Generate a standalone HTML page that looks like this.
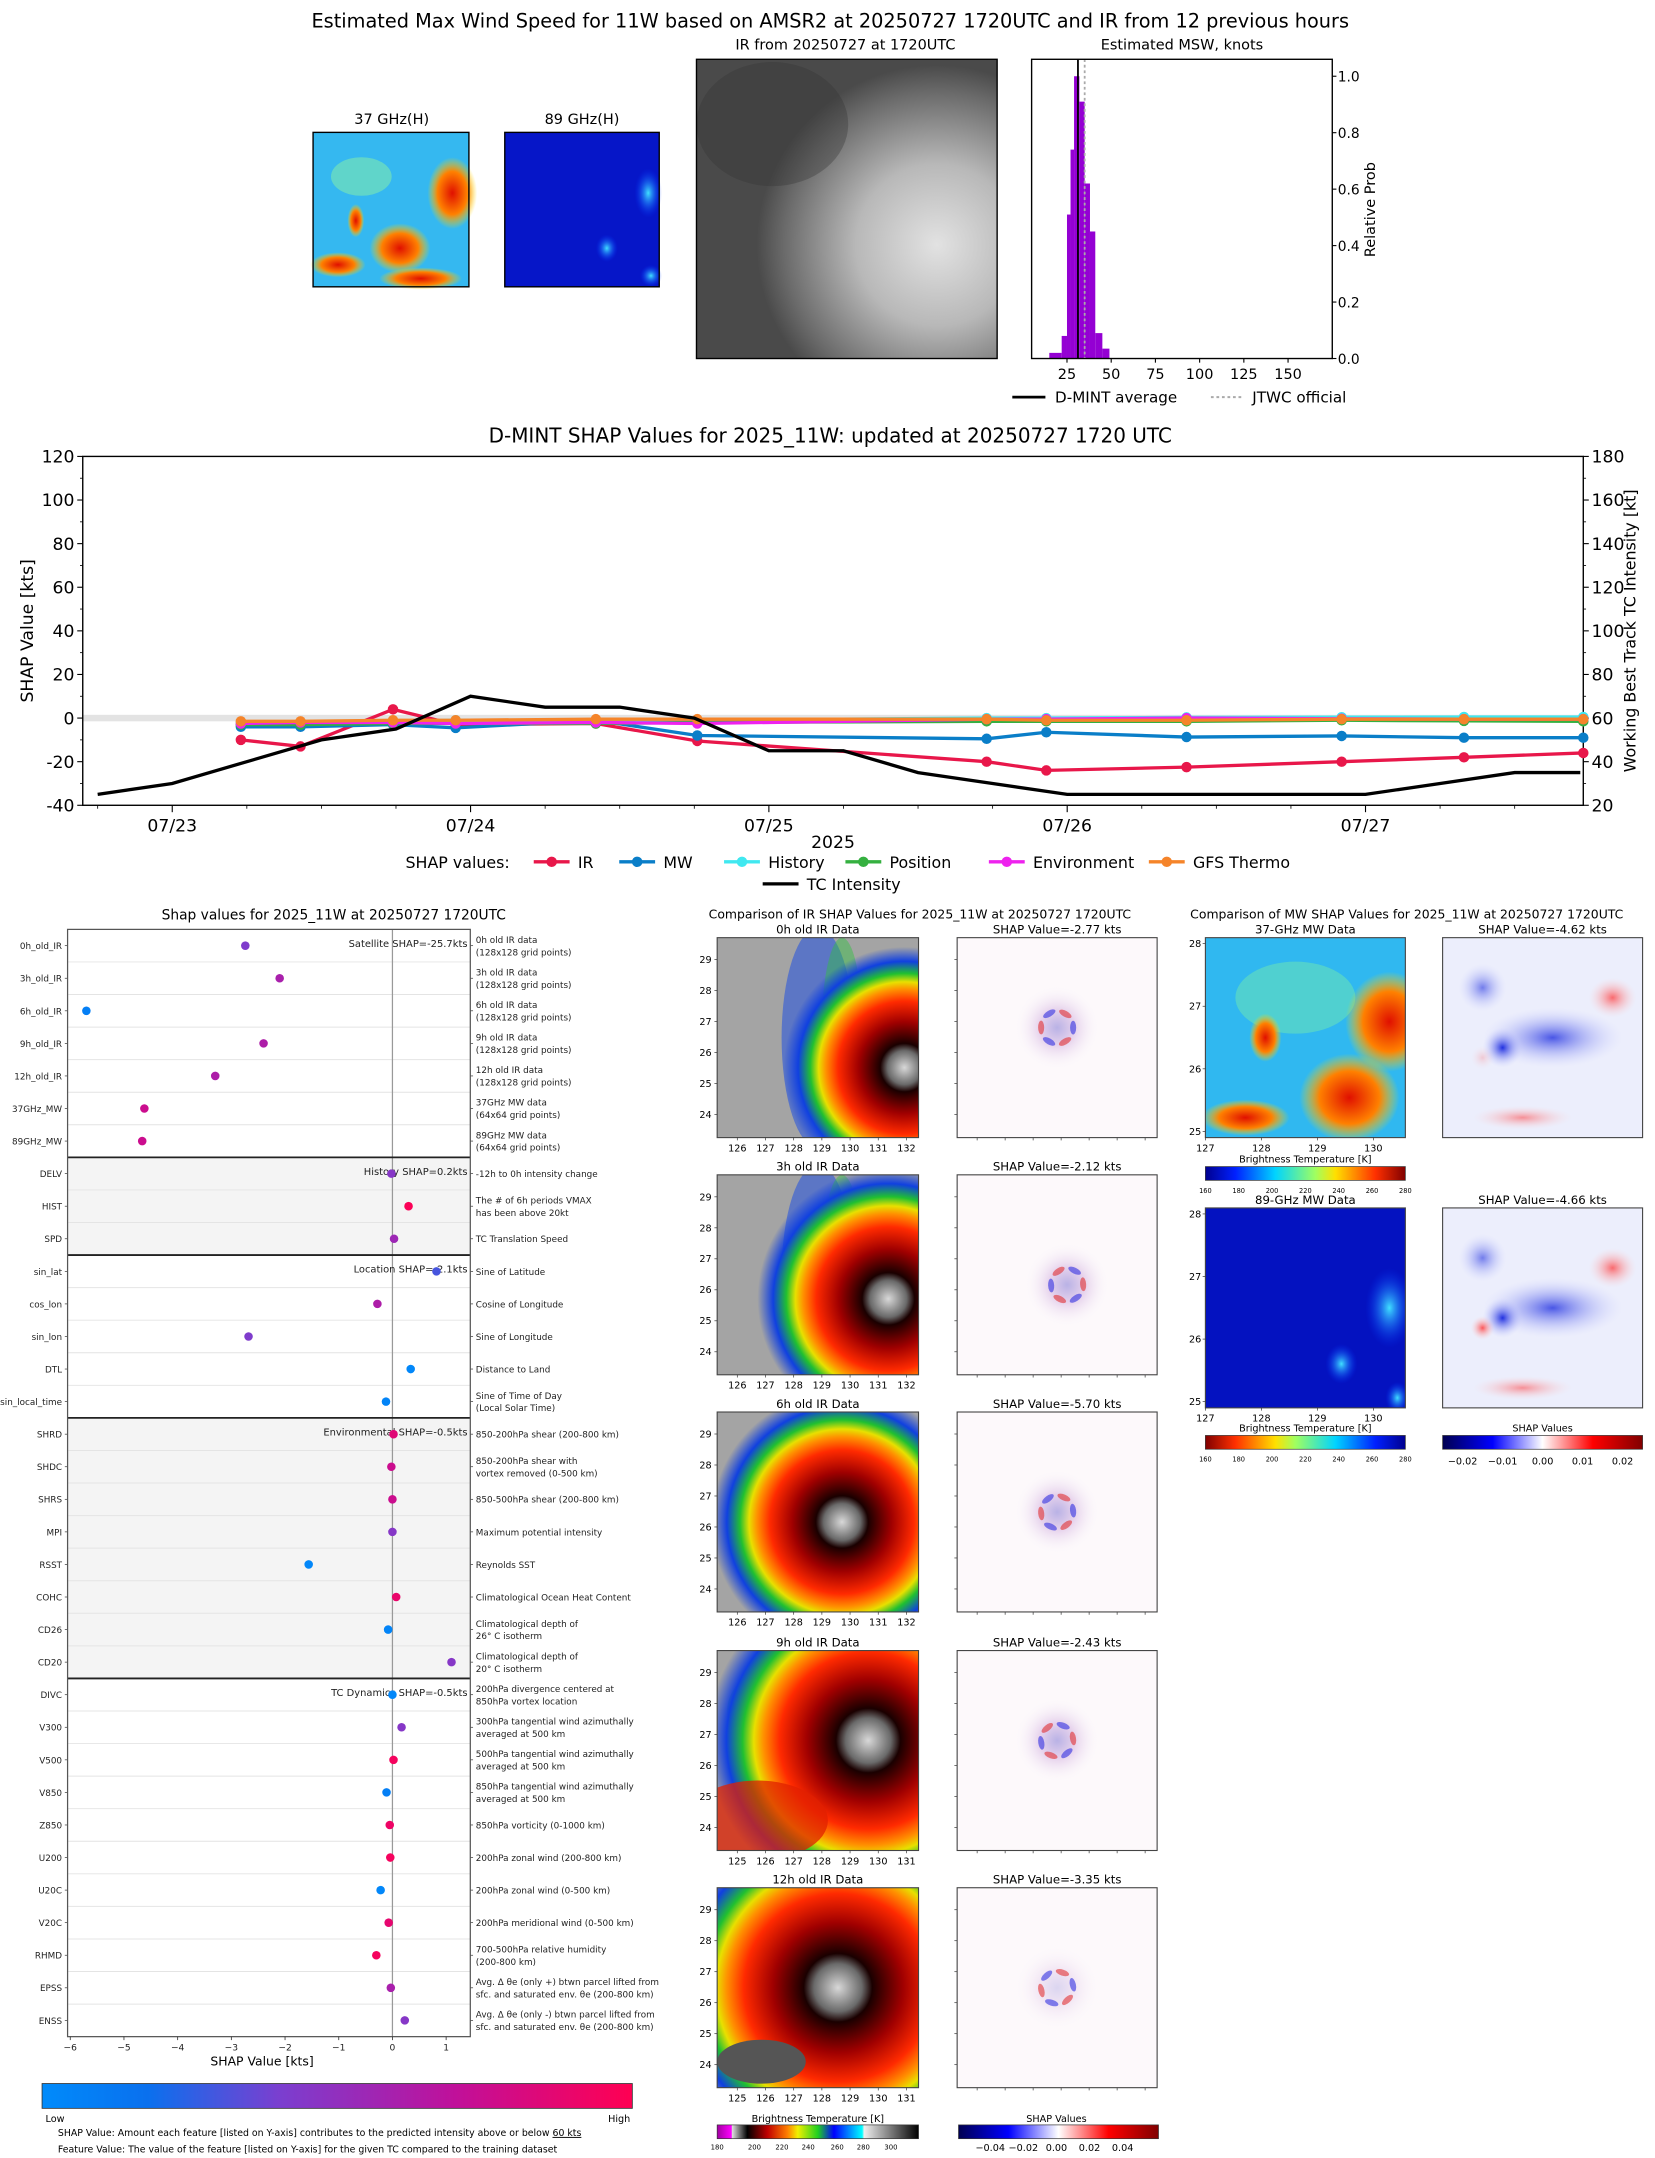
<!DOCTYPE html>
<html><head><meta charset="utf-8"><title>D-MINT 11W</title>
<style>
html,body{margin:0;padding:0;background:#fff;}
svg{display:block;font-family:"DejaVu Sans","Liberation Sans",sans-serif;}
</style></head>
<body>
<svg id="root" xmlns="http://www.w3.org/2000/svg" width="1655" height="2158" viewBox="0 0 1200 1565" preserveAspectRatio="none">
<defs>
  <linearGradient id="gLowHigh" x1="0" x2="1" y1="0" y2="0">
    <stop offset="0" stop-color="#008bfb"/><stop offset="0.18" stop-color="#0a70ee"/><stop offset="0.4" stop-color="#7a3fd0"/><stop offset="0.7" stop-color="#c0109a"/><stop offset="1" stop-color="#ff0052"/>
  </linearGradient>
  <linearGradient id="gJet" x1="0" x2="1">
    <stop offset="0" stop-color="#00008f"/><stop offset="0.15" stop-color="#0020ff"/><stop offset="0.35" stop-color="#00d4ff"/><stop offset="0.55" stop-color="#a0ff60"/><stop offset="0.65" stop-color="#ffe000"/><stop offset="0.85" stop-color="#ff3000"/><stop offset="1" stop-color="#800000"/>
  </linearGradient>
  <linearGradient id="gJetR" x1="1" x2="0">
    <stop offset="0" stop-color="#00008f"/><stop offset="0.15" stop-color="#0020ff"/><stop offset="0.35" stop-color="#00d4ff"/><stop offset="0.55" stop-color="#a0ff60"/><stop offset="0.65" stop-color="#ffe000"/><stop offset="0.85" stop-color="#ff3000"/><stop offset="1" stop-color="#800000"/>
  </linearGradient>
  <linearGradient id="gSeis" x1="0" x2="1">
    <stop offset="0" stop-color="#000050"/><stop offset="0.25" stop-color="#0000ff"/><stop offset="0.5" stop-color="#ffffff"/><stop offset="0.75" stop-color="#ff0000"/><stop offset="1" stop-color="#800000"/>
  </linearGradient>
  <linearGradient id="gIRcb" x1="0" x2="1">
    <stop offset="0" stop-color="#a000a0"/><stop offset="0.07" stop-color="#ff00ff"/><stop offset="0.075" stop-color="#ddd"/><stop offset="0.15" stop-color="#000"/><stop offset="0.25" stop-color="#c00000"/><stop offset="0.35" stop-color="#ff8000"/><stop offset="0.4" stop-color="#f0f000"/><stop offset="0.5" stop-color="#20d020"/><stop offset="0.58" stop-color="#0000ff"/><stop offset="0.72" stop-color="#00ffff"/><stop offset="0.73" stop-color="#eee"/><stop offset="1" stop-color="#000"/>
  </linearGradient>
  <radialGradient id="gStorm" cx="0.5" cy="0.5" r="0.5">
    <stop offset="0" stop-color="#d8d8d8"/><stop offset="0.14" stop-color="#6a6a6a"/><stop offset="0.2" stop-color="#1a0000"/><stop offset="0.38" stop-color="#a00000"/><stop offset="0.55" stop-color="#ff2a00"/><stop offset="0.65" stop-color="#ff9000"/><stop offset="0.71" stop-color="#e8e000"/><stop offset="0.78" stop-color="#20c030"/><stop offset="0.88" stop-color="#1040e0"/><stop offset="1" stop-color="#1040e0" stop-opacity="0"/>
  </radialGradient>
  <radialGradient id="gIRgray" cx="0.8" cy="0.62" r="0.6">
    <stop offset="0" stop-color="#e2e2e2"/><stop offset="0.45" stop-color="#b8b8b8"/><stop offset="0.85" stop-color="#6a6a6a"/><stop offset="1" stop-color="#4a4a4a"/>
  </radialGradient>
  <radialGradient id="gShapC" cx="0.5" cy="0.5" r="0.5">
    <stop offset="0" stop-color="#a8a0e0"/><stop offset="0.4" stop-color="#e0c8e8"/><stop offset="1" stop-color="#ffffff" stop-opacity="0"/>
  </radialGradient>
  <radialGradient id="gBlueBlob" cx="0.5" cy="0.5" r="0.5">
    <stop offset="0" stop-color="#2030e0"/><stop offset="1" stop-color="#c8ccff" stop-opacity="0"/>
  </radialGradient>
  <radialGradient id="gRedBlob" cx="0.5" cy="0.5" r="0.5">
    <stop offset="0" stop-color="#ff3030"/><stop offset="1" stop-color="#ffd0d0" stop-opacity="0"/>
  </radialGradient>
  <radialGradient id="gCyanBlob" cx="0.5" cy="0.5" r="0.5">
    <stop offset="0" stop-color="#40e0ff"/><stop offset="1" stop-color="#0030ff" stop-opacity="0"/>
  </radialGradient>
  <radialGradient id="gRedPatch" cx="0.5" cy="0.5" r="0.5">
    <stop offset="0" stop-color="#e01000"/><stop offset="0.6" stop-color="#ff8000"/><stop offset="1" stop-color="#ffe000" stop-opacity="0"/>
  </radialGradient>
</defs>

<text x="602" y="20" font-size="14" text-anchor="middle">Estimated Max Wind Speed for 11W based on AMSR2 at 20250727 1720UTC and IR from 12 previous hours</text>

<text x="284" y="90" font-size="10.5" text-anchor="middle">37 GHz(H)</text>
<g>
  <rect x="227" y="96" width="113" height="112" fill="#35b8f0"/>
  <ellipse cx="262" cy="128" rx="22" ry="14" fill="#7de8b0" opacity="0.6"/>
  <ellipse cx="328" cy="140" rx="18" ry="26" fill="url(#gRedPatch)"/>
  <ellipse cx="290" cy="180" rx="22" ry="18" fill="url(#gRedPatch)"/>
  <ellipse cx="245" cy="192" rx="20" ry="9" fill="url(#gRedPatch)"/>
  <ellipse cx="305" cy="202" rx="30" ry="8" fill="url(#gRedPatch)"/>
  <ellipse cx="258" cy="160" rx="6" ry="12" fill="url(#gRedPatch)"/>
  <rect x="227" y="96" width="113" height="112" fill="none" stroke="#000" stroke-width="1"/>
</g>
<text x="422" y="90" font-size="10.5" text-anchor="middle">89 GHz(H)</text>
<g>
  <rect x="366" y="96" width="112" height="112" fill="#0616c8"/>
  <ellipse cx="470" cy="140" rx="10" ry="18" fill="url(#gCyanBlob)"/>
  <ellipse cx="440" cy="180" rx="8" ry="10" fill="url(#gCyanBlob)"/>
  <ellipse cx="472" cy="200" rx="8" ry="8" fill="url(#gCyanBlob)"/>
  <rect x="366" y="96" width="112" height="112" fill="none" stroke="#000" stroke-width="1"/>
</g>
<text x="613" y="36" font-size="10.5" text-anchor="middle">IR from 20250727 at 1720UTC</text>
<g>
  <rect x="505" y="43" width="218" height="217" fill="url(#gIRgray)"/>
  <ellipse cx="560" cy="90" rx="55" ry="45" fill="#333" opacity="0.35"/>
  <rect x="505" y="43" width="218" height="217" fill="none" stroke="#000" stroke-width="1"/>
</g>
<text x="857" y="36" font-size="10.5" text-anchor="middle">Estimated MSW, knots</text>
<g id="hist"></g>

<text x="602" y="321" font-size="14.5" text-anchor="middle">D-MINT SHAP Values for 2025_11W: updated at 20250727 1720 UTC</text>
<g id="ts"></g>

<text x="242" y="667" font-size="10" text-anchor="middle">Shap values for 2025_11W at 20250727 1720UTC</text>
<g id="dots"></g>
<rect x="30.5" y="1511" width="428" height="18" fill="url(#gLowHigh)" stroke="#333" stroke-width="0.6"/>
<text x="33" y="1539" font-size="7" text-anchor="start">Low</text>
<text x="457" y="1539" font-size="7" text-anchor="end">High</text>
<text x="42" y="1549" font-size="6.8">SHAP Value: Amount each feature [listed on Y-axis] contributes to the predicted intensity above or below <tspan text-decoration="underline">60 kts</tspan></text>
<text x="42" y="1561" font-size="6.8">Feature Value: The value of the feature [listed on Y-axis] for the given TC compared to the training dataset</text>

<text x="667" y="666" font-size="9" text-anchor="middle">Comparison of IR SHAP Values for 2025_11W at 20250727 1720UTC</text>
<g id="irpanels"></g>
<text x="593" y="1539" font-size="7" text-anchor="middle">Brightness Temperature [K]</text>
<rect x="520" y="1541" width="146" height="10" fill="url(#gIRcb)" stroke="#333" stroke-width="0.5"/>
<g font-size="5" text-anchor="middle">
  <text x="520" y="1559">180</text><text x="547" y="1559">200</text><text x="567" y="1559">220</text><text x="586" y="1559">240</text><text x="607" y="1559">260</text><text x="626" y="1559">280</text><text x="646" y="1559">300</text>
</g>
<text x="766" y="1539" font-size="7" text-anchor="middle">SHAP Values</text>
<rect x="695" y="1541" width="145" height="10" fill="url(#gSeis)" stroke="#333" stroke-width="0.5"/>
<g font-size="7" text-anchor="middle">
  <text x="718" y="1560">−0.04</text><text x="742" y="1560">−0.02</text><text x="766" y="1560">0.00</text><text x="790" y="1560">0.02</text><text x="814" y="1560">0.04</text>
</g>

<text x="1020" y="666" font-size="9" text-anchor="middle">Comparison of MW SHAP Values for 2025_11W at 20250727 1720UTC</text>
<g id="mwpanels"></g>
</svg>

<script>
const NS='http://www.w3.org/2000/svg';
function mk(tag, attrs, parent){const e=document.createElementNS(NS,tag);for(const k in attrs)e.setAttribute(k,attrs[k]);parent.appendChild(e);return e;}
function tx(str, attrs, parent){const e=mk('text',attrs,parent);e.textContent=str;return e;}

/* ================= Histogram ================= */
const histBinStart=[15,22,25,27,29,32,35,38,41,45];
const histBinEnd=[22,25,27,29,32,35,38,41,45,49];
const histProb=[0.02,0.08,0.51,0.74,1.0,0.91,0.62,0.45,0.09,0.035];
const histXTicks=[25,50,75,100,125,150];
const histYTicks=[0.0,0.2,0.4,0.6,0.8,1.0];
const dmintAvg=31.2, jtwcOfficial=35;
(function(){
  const g=document.getElementById('hist');
  const L=748,R=966,T=43,B=260;
  const hx=v=>L+(v-5)/(175-5)*(R-L);
  const hy=p=>B-p/1.06*(B-T);
  for(let i=0;i<histProb.length;i++){
    const b=mk('rect',{x:hx(histBinStart[i]),y:hy(histProb[i]),width:hx(histBinEnd[i])-hx(histBinStart[i]),height:B-hy(histProb[i]),fill:'#9400d3'},g);
    
    
  }
  const a=mk('line',{x1:hx(dmintAvg),x2:hx(dmintAvg),y1:T,y2:B,stroke:'#000','stroke-width':1.3},g);
  
  
  const j=mk('line',{x1:hx(jtwcOfficial),x2:hx(jtwcOfficial),y1:T,y2:B,stroke:'#aaa','stroke-width':1.3,'stroke-dasharray':'2,2'},g);
  
  
  const fr=mk('rect',{x:L,y:T,width:R-L,height:B-T,fill:'none',stroke:'#000','stroke-width':1},g);
  
  
  histXTicks.forEach(v=>{
    mk('line',{x1:hx(v),x2:hx(v),y1:B,y2:B+3,stroke:'#000','stroke-width':0.8},g);
    const t=tx(String(v),{x:hx(v),y:B+15,'font-size':10.5,'text-anchor':'middle'},g);
    
    
  });
  histYTicks.forEach(v=>{
    mk('line',{x1:R,x2:R+3,y1:hy(v),y2:hy(v),stroke:'#000','stroke-width':0.8},g);
    const t=tx(v.toFixed(1),{x:R+4,y:hy(v)+4,'font-size':10},g);
    
    
  });
  const yl=tx('Relative Prob',{x:0,y:0,'font-size':10.5,'text-anchor':'middle',transform:'translate(997,152) rotate(-90)'},g);
  
  
  mk('line',{x1:734,x2:758,y1:288,y2:288,stroke:'#000','stroke-width':2},g);
  const l1=tx('D-MINT average',{x:765,y:292,'font-size':11},g);
  
  
  mk('line',{x1:878,x2:902,y1:288,y2:288,stroke:'#aaa','stroke-width':1.5,'stroke-dasharray':'2,2'},g);
  const l2=tx('JTWC official',{x:908,y:292,'font-size':11},g);
  
  
})();

/* ================= SHAP time series ================= */
const tsDayLabels=['07/23','07/24','07/25','07/26','07/27'];
const tsLeftTicks=[-40,-20,0,20,40,60,80,100,120];
const tsRightTicks=[20,40,60,80,100,120,140,160,180];
const shapTimes=[0.23,0.43,0.74,0.95,1.42,1.76,2.73,2.93,3.40,3.92,4.33,4.73];
const irShap=[-10,-13,4,-3,-2.5,-10.5,-20,-24,-22.5,-20,-18,-16];
const mwShap=[-4,-4,-3,-4.5,-1,-8,-9.5,-6.5,-8.7,-8.2,-9,-9];
const historyShap=[-2,-2,-1.5,-1,-1,-1,0,0,0.3,0.4,0.5,0.5];
const positionShap=[-3,-3,-2.5,-2.5,-2.5,-2,-1.5,-1.5,-1.5,-1,-1.3,-1.5];
const environmentShap=[-2.5,-2,-2,-2.5,-2,-2.5,-0.5,-0.5,0,-0.3,-0.5,-0.5];
const gfsShap=[-1.5,-1.5,-1,-1,-0.5,-0.5,-0.5,-1,-1,-0.5,-0.5,-0.5];
const tcTimes=[-0.25,0,0.25,0.5,0.75,1,1.25,1.5,1.75,2,2.25,2.5,2.75,3,3.25,3.5,3.75,4,4.25,4.5,4.72];
const tcIntensity=[25,30,40,50,55,70,65,65,60,45,45,35,30,25,25,25,25,25,30,35,35];
(function(){
  const g=document.getElementById('ts');
  const L=60,R=1148,T=331,B=584;
  const d0=-0.30,d1=4.73;
  const X=d=>L+(d-d0)/(d1-d0)*(R-L);
  const YL=v=>B-(v+40)/160*(B-T);
  const YR=v=>B-(v-20)/160*(B-T);
  const band=mk('rect',{x:L,y:YL(1.5),width:R-L,height:YL(-1.5)-YL(1.5),fill:'#e3e3e3'},g);
  
  
  const fr=mk('rect',{x:L,y:T,width:R-L,height:B-T,fill:'none',stroke:'#000','stroke-width':1},g);
  
  
  tsLeftTicks.forEach(v=>{
    mk('line',{x1:L-4,x2:L,y1:YL(v),y2:YL(v),stroke:'#000','stroke-width':0.8},g);
    if(v<120)mk('line',{x1:L-2,x2:L,y1:YL(v+10),y2:YL(v+10),stroke:'#000','stroke-width':0.6},g);
    const t=tx(String(v),{x:L-6,y:YL(v)+4.5,'font-size':12.5,'text-anchor':'end'},g);
    
    
  });
  tsRightTicks.forEach(v=>{
    mk('line',{x1:R,x2:R+4,y1:YR(v),y2:YR(v),stroke:'#000','stroke-width':0.8},g);
    if(v<180)mk('line',{x1:R,x2:R+2,y1:YR(v+10),y2:YR(v+10),stroke:'#000','stroke-width':0.6},g);
    const t=tx(String(v),{x:R+6,y:YR(v)+4.5,'font-size':12.5},g);
    
    
  });
  tsDayLabels.forEach((lab,i)=>{
    mk('line',{x1:X(i),x2:X(i),y1:B,y2:B+5,stroke:'#000','stroke-width':0.8},g);
    const t=tx(lab,{x:X(i),y:B+19,'font-size':12.5,'text-anchor':'middle'},g);
    
    
  });
  for(let q=-1;q<=19;q++){const d=q*0.25;if(d>d0&&d<d1&&q%4!==0)mk('line',{x1:X(d),x2:X(d),y1:B,y2:B+2.5,stroke:'#000','stroke-width':0.6},g);}
  const xl=tx('2025',{x:(L+R)/2,y:B+31,'font-size':12.5,'text-anchor':'middle'},g);
  
  
  const yl=tx('SHAP Value [kts]',{x:0,y:0,'font-size':12.5,'text-anchor':'middle',transform:'translate(24,'+((T+B)/2)+') rotate(-90)'},g);
  
  
  const yr=tx('Working Best Track TC Intensity [kt]',{x:0,y:0,'font-size':11.5,'text-anchor':'middle',transform:'translate(1186,'+((T+B)/2)+') rotate(-90)'},g);
  
  

  const series=[['ir',irShap,'#e8174a'],['mw',mwShap,'#0a7ec8'],['history',historyShap,'#40e8f0'],['position',positionShap,'#35b040'],['environment',environmentShap,'#ee22ee'],['gfs-thermo',gfsShap,'#f5842a']];
  series.forEach(([nm,vals,col])=>{
    const pts=shapTimes.map((t,i)=>X(t)+','+YL(vals[i])).join(' ');
    const pl=mk('polyline',{points:pts,fill:'none',stroke:col,'stroke-width':2.4},g);
    
    
    shapTimes.forEach((t,i)=>{
      const c=mk('circle',{cx:X(t),cy:YL(vals[i]),r:3.8,fill:col},g);
      
      
    });
  });
  const tcl=mk('polyline',{points:tcTimes.map((t,i)=>X(t)+','+YR(tcIntensity[i])).join(' '),fill:'none',stroke:'#000','stroke-width':2.4},g);
  
  

  const ly=625;
  const lt=tx('SHAP values:',{x:294,y:ly+4.5,'font-size':11.5},g);
  
  
  const legX=[387,449,525,613,717,833];
  const legN=['IR','MW','History','Position','Environment','GFS Thermo'];
  series.forEach(([nm,vals,col],i)=>{
    mk('line',{x1:legX[i],x2:legX[i]+26,y1:ly,y2:ly,stroke:col,'stroke-width':2.4},g);
    mk('circle',{cx:legX[i]+13,cy:ly,r:3.8,fill:col},g);
    const t=tx(legN[i],{x:legX[i]+32,y:ly+4.5,'font-size':11.5},g);
    
    
  });
  mk('line',{x1:553,x2:579,y1:641,y2:641,stroke:'#000','stroke-width':2.4},g);
  const tl=tx('TC Intensity',{x:585,y:645.5,'font-size':11.5},g);
  
  
})();

/* ================= Dot plot ================= */
const featureNames=['0h_old_IR','3h_old_IR','6h_old_IR','9h_old_IR','12h_old_IR','37GHz_MW','89GHz_MW','DELV','HIST','SPD','sin_lat','cos_lon','sin_lon','DTL','sin_local_time','SHRD','SHDC','SHRS','MPI','RSST','COHC','CD26','CD20','DIVC','V300','V500','V850','Z850','U200','U20C','V20C','RHMD','EPSS','ENSS'];
const featureShap=[-2.74,-2.1,-5.7,-2.4,-3.3,-4.62,-4.66,-0.02,0.3,0.03,0.82,-0.28,-2.68,0.34,-0.12,0.02,-0.02,0.0,0.0,-1.56,0.07,-0.08,1.1,0.0,0.17,0.02,-0.11,-0.05,-0.04,-0.22,-0.07,-0.3,-0.03,0.23];
const featureValue=[0.42,0.6,0.08,0.62,0.62,0.75,0.75,0.45,0.98,0.55,0.3,0.62,0.42,0.03,0.05,0.85,0.75,0.75,0.45,0.03,0.9,0.05,0.45,0.03,0.45,0.95,0.08,0.92,0.95,0.03,0.88,0.95,0.6,0.45];
const featureDesc=[['0h old IR data','(128x128 grid points)'],['3h old IR data','(128x128 grid points)'],['6h old IR data','(128x128 grid points)'],['9h old IR data','(128x128 grid points)'],['12h old IR data','(128x128 grid points)'],['37GHz MW data','(64x64 grid points)'],['89GHz MW data','(64x64 grid points)'],['-12h to 0h intensity change'],['The # of 6h periods VMAX','has been above 20kt'],['TC Translation Speed'],['Sine of Latitude'],['Cosine of Longitude'],['Sine of Longitude'],['Distance to Land'],['Sine of Time of Day','(Local Solar Time)'],['850-200hPa shear (200-800 km)'],['850-200hPa shear with','vortex removed (0-500 km)'],['850-500hPa shear (200-800 km)'],['Maximum potential intensity'],['Reynolds SST'],['Climatological Ocean Heat Content'],['Climatological depth of','26° C isotherm'],['Climatological depth of','20° C isotherm'],['200hPa divergence centered at','850hPa vortex location'],['300hPa tangential wind azimuthally','averaged at 500 km'],['500hPa tangential wind azimuthally','averaged at 500 km'],['850hPa tangential wind azimuthally','averaged at 500 km'],['850hPa vorticity (0-1000 km)'],['200hPa zonal wind (200-800 km)'],['200hPa zonal wind (0-500 km)'],['200hPa meridional wind (0-500 km)'],['700-500hPa relative humidity','(200-800 km)'],['Avg. Δ θe (only +) btwn parcel lifted from','sfc. and saturated env. θe (200-800 km)'],['Avg. Δ θe (only -) btwn parcel lifted from','sfc. and saturated env. θe (200-800 km)']];
const groupStart=[0,7,10,15,23];
const groupEnd=[7,10,15,23,34];
const groupLabel=['Satellite SHAP=-25.7kts','History SHAP=0.2kts','Location SHAP=-2.1kts','Environmental SHAP=-0.5kts','TC Dynamics SHAP=-0.5kts'];
const dotXTicks=[-6,-5,-4,-3,-2,-1,0,1];
(function(){
  const g=document.getElementById('dots');
  const L=49,R=341,T=674,B=1477;
  const xmin=-6.05,xmax=1.45;
  const X=v=>L+(v-xmin)/(xmax-xmin)*(R-L);
  const dy=(B-T)/34;
  const Y=i=>T+dy*(i+0.5);
  function col(f){
    const stops=[[0,[0,139,251]],[0.18,[10,112,238]],[0.4,[122,63,208]],[0.7,[192,16,154]],[1,[255,0,82]]];
    for(let k=1;k<stops.length;k++){if(f<=stops[k][0]){const a=stops[k-1],b=stops[k];const t=(f-a[0])/(b[0]-a[0]);return 'rgb('+a[1].map((c,j)=>Math.round(c+(b[1][j]-c)*t)).join(',')+')';}}
    return 'rgb(255,0,82)';
  }
  groupStart.forEach((s,k)=>{
    if(k===1||k===3){
      const r=mk('rect',{x:L,y:T+s*dy,width:R-L,height:(groupEnd[k]-s)*dy,fill:'#f4f4f4'},g);
      
      
    }
  });
  for(let i=1;i<34;i++)mk('line',{x1:L,x2:R,y1:T+i*dy,y2:T+i*dy,stroke:'#e4e4e4','stroke-width':0.7},g);
  const zl=mk('line',{x1:X(0),x2:X(0),y1:T,y2:B,stroke:'#999','stroke-width':0.9},g);
  
  
  groupStart.forEach((s,k)=>{
    if(k>0){
      const sl=mk('line',{x1:L,x2:R,y1:T+s*dy,y2:T+s*dy,stroke:'#222','stroke-width':1.3},g);
      
      
    }
    const gt=tx(groupLabel[k],{x:R-2,y:Y(s)+1,'font-size':7.2,'text-anchor':'end',fill:'#222'},g);
    
    
  });
  featureNames.forEach((nm,i)=>{
    const t=tx(nm,{x:L-4,y:Y(i)+2.5,'font-size':6.4,'text-anchor':'end',fill:'#222'},g);
    
    
    mk('line',{x1:L-2,x2:L,y1:Y(i),y2:Y(i),stroke:'#333','stroke-width':0.5},g);
    mk('line',{x1:R,x2:R+2,y1:Y(i),y2:Y(i),stroke:'#333','stroke-width':0.5},g);
    const d=featureDesc[i];
    d.forEach((line,j)=>{
      const dt=tx(line,{x:R+4,y:Y(i)+2.5+(j-(d.length-1)/2)*9,'font-size':6.4,fill:'#222'},g);
      
      
    });
    const c=mk('circle',{cx:X(featureShap[i]),cy:Y(i),r:3.1,fill:col(featureValue[i])},g);
    
    
  });
  const fr=mk('rect',{x:L,y:T,width:R-L,height:B-T,fill:'none',stroke:'#555','stroke-width':0.9},g);
  
  
  dotXTicks.forEach(v=>{
    mk('line',{x1:X(v),x2:X(v),y1:B,y2:B+2.5,stroke:'#333','stroke-width':0.6},g);
    const t=tx(v<0?'−'+(-v):String(v),{x:X(v),y:B+10,'font-size':6.6,'text-anchor':'middle',fill:'#222'},g);
    
    
  });
  const xl=tx('SHAP Value [kts]',{x:(L+R)/2-5,y:B+21,'font-size':9,'text-anchor':'middle'},g);
  
  
})();

/* ================= IR panels ================= */
const irRowTitles=['0h old IR Data','3h old IR Data','6h old IR Data','9h old IR Data','12h old IR Data'];
const irShapTitles=['SHAP Value=-2.77 kts','SHAP Value=-2.12 kts','SHAP Value=-5.70 kts','SHAP Value=-2.43 kts','SHAP Value=-3.35 kts'];
const irLatTicks=[29,28,27,26,25,24];
const irLonTicksA=[126,127,128,129,130,131,132];
const irLonTicksB=[125,126,127,128,129,130,131];
(function(){
  const g=document.getElementById('irpanels');
  const x1=520,w=146,x2=694,w2=145,h=145;
  const rowY=[680,852,1024,1197,1369];
  const cx=[0.93,0.85,0.62,0.75,0.6], cy=[0.65,0.62,0.55,0.45,0.5], rr=[0.6,0.65,0.65,0.8,0.85];
  rowY.forEach((y,i)=>{
    const cp=mk('clipPath',{id:'clip'+i},g);
    mk('rect',{x:x1,y:y,width:w,height:h},cp);
    const pg=mk('g',{'clip-path':'url(#clip'+i+')'},g);
    
    
    mk('rect',{x:x1,y:y,width:w,height:h,fill:'#a4a4a4'},pg);
    if(i<3){
      mk('ellipse',{cx:x1+0.5*w,cy:y+0.5*h,rx:0.18*w,ry:0.55*h,fill:'#2050e0',opacity:0.55},pg);
      mk('ellipse',{cx:x1+0.62*w,cy:y+0.45*h,rx:0.1*w,ry:0.45*h,fill:'#30c040',opacity:0.45},pg);
    } else {
      mk('ellipse',{cx:x1+0.4*w,cy:y+0.3*h,rx:0.35*w,ry:0.25*h,fill:'#30c040',opacity:0.5},pg);
    }
    const R=rr[i]*w;
    mk('circle',{cx:x1+cx[i]*w,cy:y+cy[i]*h,r:R,fill:'url(#gStorm)'},pg);
    if(i===3){mk('ellipse',{cx:x1+0.2*w,cy:y+0.85*h,rx:0.35*w,ry:0.2*h,fill:'#e02000',opacity:0.75},pg);}
    if(i===4){mk('ellipse',{cx:x1+0.22*w,cy:y+0.87*h,rx:0.22*w,ry:0.11*h,fill:'#555'},pg);}
    const fr=mk('rect',{x:x1,y:y,width:w,height:h,fill:'none',stroke:'#444','stroke-width':0.8},g);
    
    
    const t=tx(irRowTitles[i],{x:x1+w/2,y:y-3,'font-size':8.5,'text-anchor':'middle'},g);
    
    
    irLatTicks.forEach((lat,k)=>{
      const ty=y+h*(0.11+k*0.155);
      mk('line',{x1:x1-2,x2:x1,y1:ty,y2:ty,stroke:'#333','stroke-width':0.5},g);
      const lt=tx(String(lat),{x:x1-4,y:ty+2.5,'font-size':7,'text-anchor':'end'},g);
      
      
      mk('line',{x1:x2-2,x2:x2,y1:ty,y2:ty,stroke:'#333','stroke-width':0.5},g);
    });
    const lons=i<3?irLonTicksA:irLonTicksB;
    lons.forEach((lon,k)=>{
      const tx0=x1+w*(0.1+k*0.14);
      mk('line',{x1:tx0,x2:tx0,y1:y+h,y2:y+h+2,stroke:'#333','stroke-width':0.5},g);
      const lt=tx(String(lon),{x:tx0,y:y+h+10,'font-size':7,'text-anchor':'middle'},g);
      
      
      mk('line',{x1:x2+w2*(0.1+k*0.14),x2:x2+w2*(0.1+k*0.14),y1:y+h,y2:y+h+2,stroke:'#333','stroke-width':0.5},g);
    });
    const sg=mk('g',{},g);
    
    
    mk('rect',{x:x2,y:y,width:w2,height:h,fill:'#fdf9fb'},sg);
    const sc=[[0.5,0.45],[0.55,0.55],[0.5,0.5],[0.5,0.45],[0.5,0.5]][i];
    mk('circle',{cx:x2+sc[0]*w2,cy:y+sc[1]*h,r:0.22*w2,fill:'url(#gShapC)',opacity:i===4?0.4:0.8},sg);
    for(let k=0;k<6;k++){
      const ang=k*1.05+i;
      const px=x2+sc[0]*w2+Math.cos(ang)*0.08*w2, py=y+sc[1]*h+Math.sin(ang)*0.08*h;
      mk('ellipse',{cx:px,cy:py,rx:2.2,ry:5,fill:k%2?'#e02020':'#2020e0',opacity:0.55,transform:'rotate('+(ang*57)+' '+px+' '+py+')'},sg);
    }
    mk('rect',{x:x2,y:y,width:w2,height:h,fill:'none',stroke:'#444','stroke-width':0.8},sg);
    const st=tx(irShapTitles[i],{x:x2+w2/2,y:y-3,'font-size':8.5,'text-anchor':'middle'},g);
    
    
  });
})();

/* ================= MW panels ================= */
const mwTitles=['37-GHz MW Data','89-GHz MW Data'];
const mwShapTitles=['SHAP Value=-4.62 kts','SHAP Value=-4.66 kts'];
const mwLatTicks=[28,27,26,25];
const mwLonTicks=[127,128,129,130];
const mwCbTicks=[160,180,200,220,240,260,280];
const mwShapCbTicks=['−0.02','−0.01','0.00','0.01','0.02'];
(function(){
  const g=document.getElementById('mwpanels');
  const x1=874,w=145,x2=1046,h=145;
  const rowY=[680,876];
  rowY.forEach((y,i)=>{
    const cp=mk('clipPath',{id:'mclip'+i},g);
    mk('rect',{x:x1,y:y,width:w,height:h},cp);
    const pg=mk('g',{'clip-path':'url(#mclip'+i+')'},g);
    
    
    if(i===0){
      mk('rect',{x:x1,y:y,width:w,height:h,fill:'#30b8f0'},pg);
      mk('ellipse',{cx:x1+0.45*w,cy:y+0.3*h,rx:0.3*w,ry:0.18*h,fill:'#70e8b0',opacity:0.5},pg);
      mk('ellipse',{cx:x1+0.92*w,cy:y+0.42*h,rx:0.22*w,ry:0.25*h,fill:'url(#gRedPatch)'},pg);
      mk('ellipse',{cx:x1+0.72*w,cy:y+0.8*h,rx:0.25*w,ry:0.22*h,fill:'url(#gRedPatch)'},pg);
      mk('ellipse',{cx:x1+0.2*w,cy:y+0.9*h,rx:0.22*w,ry:0.09*h,fill:'url(#gRedPatch)'},pg);
      mk('ellipse',{cx:x1+0.3*w,cy:y+0.5*h,rx:0.08*w,ry:0.12*h,fill:'url(#gRedPatch)'},pg);
    } else {
      mk('rect',{x:x1,y:y,width:w,height:h,fill:'#0412c0'},pg);
      mk('ellipse',{cx:x1+0.92*w,cy:y+0.5*h,rx:0.12*w,ry:0.2*h,fill:'url(#gCyanBlob)'},pg);
      mk('ellipse',{cx:x1+0.68*w,cy:y+0.78*h,rx:0.08*w,ry:0.1*h,fill:'url(#gCyanBlob)'},pg);
      mk('ellipse',{cx:x1+0.96*w,cy:y+0.95*h,rx:0.06*w,ry:0.08*h,fill:'url(#gCyanBlob)'},pg);
    }
    const fr=mk('rect',{x:x1,y:y,width:w,height:h,fill:'none',stroke:'#444','stroke-width':0.8},g);
    
    
    const t=tx(mwTitles[i],{x:x1+w/2,y:y-3,'font-size':8.5,'text-anchor':'middle'},g);
    
    
    mwLatTicks.forEach((lat,k)=>{
      const ty=y+h*(0.03+k*0.313);
      mk('line',{x1:x1-2,x2:x1,y1:ty,y2:ty,stroke:'#333','stroke-width':0.5},g);
      const lt=tx(String(lat),{x:x1-3,y:ty+2.5,'font-size':7,'text-anchor':'end'},g);
      
      
    });
    mwLonTicks.forEach((lon,k)=>{
      const tx0=x1+w*(0.0+k*0.28);
      mk('line',{x1:tx0,x2:tx0,y1:y+h,y2:y+h+2,stroke:'#333','stroke-width':0.5},g);
      const lt=tx(String(lon),{x:tx0,y:y+h+10,'font-size':7,'text-anchor':'middle'},g);
      
      
    });
    const cby=i===0?846:1041;
    const cl=tx('Brightness Temperature [K]',{x:x1+w/2,y:cby-3,'font-size':7,'text-anchor':'middle'},g);
    
    
    const cb=mk('rect',{x:x1,y:cby,width:w,height:10,fill:i===0?'url(#gJet)':'url(#gJetR)',stroke:'#333','stroke-width':0.5},g);
    
    
    mwCbTicks.forEach((v,k)=>{
      const ct=tx(String(v),{x:x1+k*w/6,y:cby+19,'font-size':4.8,'text-anchor':'middle'},g);
      
      
    });
    const sg=mk('g',{},g);
    
    
    mk('rect',{x:x2,y:y,width:w,height:h,fill:'#eceefc'},sg);
    mk('ellipse',{cx:x2+0.55*w,cy:y+0.5*h,rx:0.35*w,ry:0.15*h,fill:'url(#gBlueBlob)',opacity:0.8},sg);
    mk('ellipse',{cx:x2+0.3*w,cy:y+0.55*h,rx:0.1*w,ry:0.1*h,fill:'url(#gBlueBlob)'},sg);
    mk('ellipse',{cx:x2+0.2*w,cy:y+0.25*h,rx:0.12*w,ry:0.12*h,fill:'url(#gBlueBlob)',opacity:0.6},sg);
    mk('ellipse',{cx:x2+0.85*w,cy:y+0.3*h,rx:0.12*w,ry:0.1*h,fill:'url(#gRedBlob)',opacity:0.7},sg);
    mk('ellipse',{cx:x2+0.4*w,cy:y+0.9*h,rx:0.25*w,ry:0.06*h,fill:'url(#gRedBlob)',opacity:0.5},sg);
    mk('ellipse',{cx:x2+0.2*w,cy:y+0.6*h,rx:0.06*w,ry:0.06*h,fill:'url(#gRedBlob)',opacity:i===1?0.8:0.2},sg);
    mk('rect',{x:x2,y:y,width:w,height:h,fill:'none',stroke:'#444','stroke-width':0.8},sg);
    const st=tx(mwShapTitles[i],{x:x2+w/2,y:y-3,'font-size':8.5,'text-anchor':'middle'},g);
    
    
  });
  const sl=tx('SHAP Values',{x:x2+w/2,y:1038,'font-size':7,'text-anchor':'middle'},g);
  
  
  const sb=mk('rect',{x:x2,y:1041,width:w,height:10,fill:'url(#gSeis)',stroke:'#333','stroke-width':0.5},g);
  
  
  mwShapCbTicks.forEach((v,k)=>{
    const ct=tx(v,{x:x2+w*(0.1+k*0.2),y:1062,'font-size':7,'text-anchor':'middle'},g);
    
    
  });
})();
</script>
</body></html>
